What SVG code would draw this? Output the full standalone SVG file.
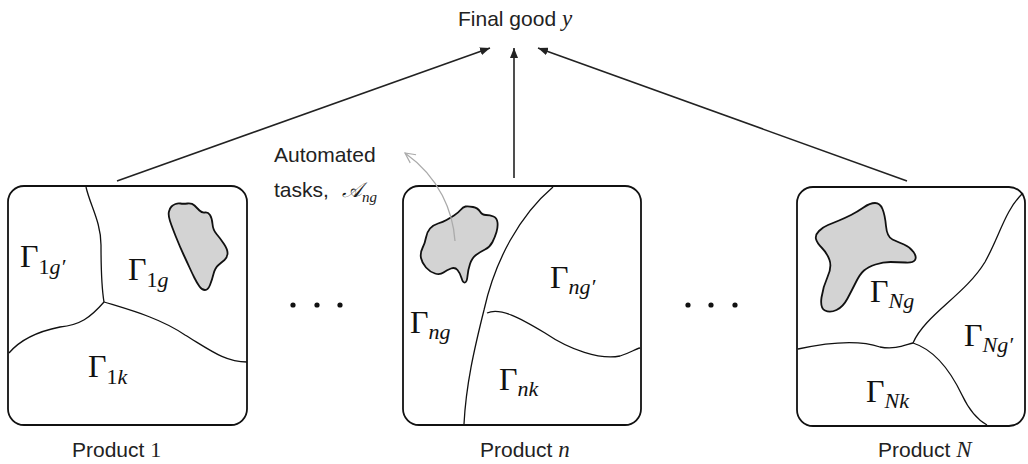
<svg xmlns="http://www.w3.org/2000/svg" width="1028" height="464" viewBox="0 0 1028 464">
<style>
.box{fill:#fff;stroke:#111;stroke-width:1.8}
.div{fill:none;stroke:#111;stroke-width:1.3}
.blob{fill:#d3d3d3;stroke:#111;stroke-width:1.8;stroke-linejoin:round}
.sans{font-family:"Liberation Sans",Arial,sans-serif;font-size:21px;fill:#222}
.m{font-family:"Liberation Serif","Times New Roman",serif;font-size:32px;fill:#111}
.s{font-size:22px}
.i{font-style:italic}
.arr{stroke:#222;stroke-width:1.6;fill:none}
.dot{fill:#111}
</style>
<defs>
<marker id="ah" viewBox="0 0 10 8" refX="10" refY="4" markerWidth="10" markerHeight="8" markerUnits="userSpaceOnUse" orient="auto">
<path d="M0,0 L10,4 L0,8 z" fill="#222"/>
</marker>
<marker id="gh" viewBox="0 0 12 12" refX="11" refY="6" markerWidth="12" markerHeight="12" markerUnits="userSpaceOnUse" orient="auto">
<path d="M1,1 L11,6 L1,11" fill="none" stroke="#aaa" stroke-width="1.2"/>
</marker>
</defs>

<g id="final-good">
<text class="sans" x="458" y="26" font-size="22">Final good <tspan font-family="Liberation Serif,serif" font-style="italic" font-size="23">y</tspan></text>
</g>

<g id="product-1">
<rect class="box" x="8" y="186" width="239" height="239" rx="16"/>
<path class="div" d="M86,187 C90,205 101,222 101,245 C101,270 102,290 104,302"/>
<path class="div" d="M104,302 C90,318 80,325 60,327 C35,332 20,340 9,353"/>
<path class="div" d="M104,302 C130,310 160,318 185,335 C210,350 225,362 247,362"/>
<path class="blob" d="M175.5,204 Q178,203 180.5,203.5 Q183,204 187.5,203.5 Q192,203 194.5,205.5 Q197,208 199.5,210.5 Q202,213 205,212.5 Q208,212 210,215 Q212,218 212.5,224 Q213,230 216.5,234 Q220,238 224,244 Q228,250 227.5,254 Q227,258 224.5,260 Q222,262 218.5,265 Q215,268 213.5,274 Q212,280 210,285 Q208,290 205,290 Q202,290 199.5,286.5 Q197,283 194.5,278 Q192,273 189.5,267.5 Q187,262 183.5,254.5 Q180,247 176,237 Q172,227 170,221 Q168,215 169,211.5 Q170,208 171.5,206.5 Q173,205 175.5,204 Z"/>
<text class="m" x="20" y="267">Γ<tspan class="s" dy="7">1<tspan class="i">g′</tspan></tspan></text>
<text class="m" x="128" y="280">Γ<tspan class="s" dy="7">1<tspan class="i">g</tspan></tspan></text>
<text class="m" x="88" y="377">Γ<tspan class="s" dy="7">1<tspan class="i">k</tspan></tspan></text>
<text class="sans" x="72" y="457">Product <tspan font-family="Liberation Serif,serif" font-size="22">1</tspan></text>
</g>

<g id="product-n">
<rect class="box" x="403" y="186" width="238" height="239" rx="16"/>
<path class="div" d="M553,187 C520,215 495,260 484,310 C474,350 466,385 464,424"/>
<path class="div" d="M487,313 C500,307 520,318 545,333 C570,350 600,360 620,356 C630,353 635,349 640,348"/>
<path class="blob" d="M473,207 Q478,208 480,211.5 Q482,215 486,215 Q490,215 493.5,216.5 Q497,218 497.5,222.5 Q498,227 496.5,232 Q495,237 492.5,242 Q490,247 485,249.5 Q480,252 476,255 Q472,258 470,264 Q468,270 467.5,276 Q467,282 465,282.5 Q463,283 461.5,278 Q460,273 457.5,270 Q455,267 451,268.5 Q447,270 443.5,272.5 Q440,275 435,273.5 Q430,272 426,267.5 Q422,263 421,258 Q420,253 422.5,248 Q425,243 426,237.5 Q427,232 430,228.5 Q433,225 438,223.5 Q443,222 446.5,220 Q450,218 454,215.5 Q458,213 460.5,210 Q463,207 465.5,206.5 Q468,206 473,207 Z"/>
<text class="m" x="410" y="333">Γ<tspan class="s i" dy="6">ng</tspan></text>
<text class="m" x="550" y="288">Γ<tspan class="s i" dy="6">ng′</tspan></text>
<text class="m" x="499" y="390">Γ<tspan class="s i" dy="6">nk</tspan></text>
<text class="sans" x="480" y="457">Product <tspan font-family="Liberation Serif,serif" font-style="italic" font-size="23">n</tspan></text>
</g>

<g id="product-N">
<rect class="box" x="797" y="187" width="228" height="239" rx="16"/>
<path class="div" d="M1023,193 C1005,210 1000,235 985,262 C965,295 925,315 913,343"/>
<path class="div" d="M798,349 C830,342 860,340 880,347 C895,350 905,345 913,343"/>
<path class="div" d="M913,343 C935,350 950,370 962,395 C970,412 978,420 987,425"/>
<path class="blob" d="M863.5,207.5 Q870,203 875,203 Q880,203 882.5,209 Q885,215 886,226 Q887,237 892.5,239.5 Q898,242 904,244.5 Q910,247 913.5,252 Q917,257 915,260 Q913,263 905.5,262.5 Q898,262 890.5,262 Q883,262 875.5,264.5 Q868,267 864,270.5 Q860,274 856,282 Q852,290 847.5,298.5 Q843,307 836.5,310 Q830,313 825,310.5 Q820,308 821.5,297.5 Q823,287 827.5,277 Q832,267 829.5,260 Q827,253 822,248 Q817,243 816,239 Q815,235 819,231 Q823,227 828,225 Q833,223 839,220.5 Q845,218 851,215 Q857,212 863.5,207.5 Z"/>
<text class="m" x="870" y="302">Γ<tspan class="s i" dy="6">Ng</tspan></text>
<text class="m" x="964" y="346">Γ<tspan class="s i" dy="6">Ng′</tspan></text>
<text class="m" x="866" y="402">Γ<tspan class="s i" dy="6">Nk</tspan></text>
<text class="sans" x="878" y="457">Product <tspan font-family="Liberation Serif,serif" font-style="italic" font-size="23">N</tspan></text>
</g>

<g id="ellipses">
<circle class="dot" cx="293" cy="305" r="2.6"/>
<circle class="dot" cx="317" cy="305" r="2.6"/>
<circle class="dot" cx="340" cy="305" r="2.6"/>
<circle class="dot" cx="688" cy="305" r="2.6"/>
<circle class="dot" cx="711" cy="305" r="2.6"/>
<circle class="dot" cx="735" cy="305" r="2.6"/>
</g>

<g id="automated-label">
<text class="sans" x="274" y="162">Automated</text>
<text class="sans" x="274" y="197">tasks,</text>
<text x="342" y="197" font-family="'Liberation Serif','DejaVu Serif',serif" font-style="italic" font-size="21" fill="#222">𝒜<tspan font-size="15" dy="5">ng</tspan></text>
</g>

<g id="connectors">
<path class="arr" d="M117,181 L490,48" marker-end="url(#ah)"/>
<path class="arr" d="M514,178 L514,48" marker-end="url(#ah)"/>
<path class="arr" d="M907,181 L538,48" marker-end="url(#ah)"/>
<path d="M455,241 C453,212 440,178 405,153" fill="none" stroke="#aaa" stroke-width="1.3" marker-end="url(#gh)"/>
</g>
</svg>
